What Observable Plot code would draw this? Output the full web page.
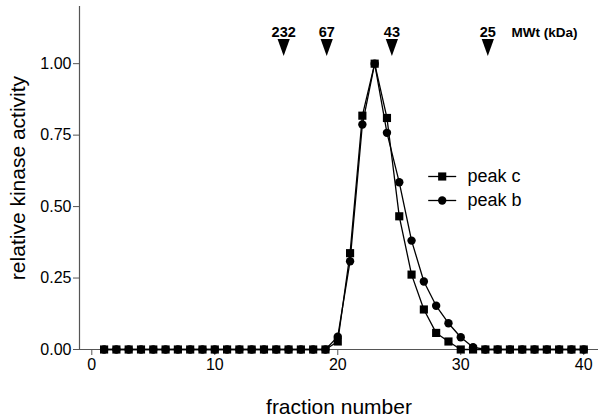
<!DOCTYPE html>
<html>
<head>
<meta charset="utf-8">
<script src="https://cdn.jsdelivr.net/npm/d3@7"></script>
<script src="https://cdn.jsdelivr.net/npm/@observablehq/plot@0.6"></script>
<style>
  html, body { margin: 0; padding: 0; background: #fff; }
  #chart { width: 602px; height: 418px; }
</style>
</head>
<body>
<div id="chart"></div>
<script>
// ---- data ----
const fractions = d3.range(1, 41);
const peakC = [0,0,0,0,0,0,0,0,0,0,0,0,0,0,0,0,0,0,0,0.028,0.337,0.818,1.0,0.81,0.466,0.262,0.14,0.058,0.028,0,0,0,0,0,0,0,0,0,0,0];
const peakB = [0,0,0,0,0,0,0,0,0,0,0,0,0,0,0,0,0,0,0,0.045,0.309,0.787,1.0,0.758,0.585,0.381,0.238,0.153,0.092,0.043,0.008,0,0,0,0,0,0,0,0,0];
const mwLabels = ["232", "67", "43", "25"];
const mwFractions = [15.6, 19.1, 24.4, 32.2];
const xTicks = [0, 10, 20, 30, 40];
const yTicks = [0, 0.25, 0.5, 0.75, 1.0];
const xDomain = [-1, 41.2];
const yDomain = [0, 1.2];

const rowsC = fractions.map((f, i) => ({f, v: peakC[i]}));
const rowsB = fractions.map((f, i) => ({f, v: peakB[i]}));
const mw = mwLabels.map((l, i) => ({l, f: mwFractions[i]}));

const downTriangle = {
  draw(ctx, size) {
    const r = Math.sqrt(size / Math.PI);
    ctx.moveTo(-0.72 * r, -r);
    ctx.lineTo(0.72 * r, -r);
    ctx.lineTo(0, r);
    ctx.closePath();
  }
};
const legendLine = {
  draw(ctx, size) {
    ctx.moveTo(-14, 0);
    ctx.lineTo(14, 0);
  }
};

const axisColor = "#555";
const font = "'Liberation Sans', Arial, sans-serif";

const chart = Plot.plot({
  width: 602,
  height: 418,
  marginLeft: 79,
  marginRight: 4,
  marginTop: 6,
  marginBottom: 69,
  style: {fontFamily: font, fontSize: "16px", color: "black", background: "white", overflow: "visible"},
  x: {domain: xDomain},
  y: {domain: yDomain},
  marks: [
    Plot.axisX(xTicks, {tickSize: 6, tickPadding: 3, stroke: axisColor, fill: "black", fontSize: 16, label: null}),
    Plot.axisY(yTicks, {tickSize: 6, tickPadding: 2, tickFormat: d3.format(".2f"), stroke: axisColor, fill: "black", fontSize: 16, label: null}),
    Plot.ruleY([yDomain[0]], {stroke: axisColor, strokeWidth: 1.2}),
    Plot.ruleX([xDomain[0]], {stroke: axisColor, strokeWidth: 1.2}),
    // axis titles
    Plot.text(["fraction number"], {frameAnchor: "bottom", lineAnchor: "middle", dy: 58, fontSize: 21, fill: "black"}),
    Plot.text(["relative kinase activity"], {frameAnchor: "left", textAnchor: "middle", lineAnchor: "middle", dx: -61, rotate: -90, fontSize: 21, fill: "black"}),
    // series
    Plot.line(rowsB, {x: "f", y: "v", stroke: "black", strokeWidth: 1.3}),
    Plot.dot(rowsB, {x: "f", y: "v", symbol: "circle", r: 4.2, fill: "black", stroke: "none"}),
    Plot.line(rowsC, {x: "f", y: "v", stroke: "black", strokeWidth: 1.3}),
    Plot.dot(rowsC, {x: "f", y: "v", symbol: "square", r: 4.6, fill: "black", stroke: "none"}),
    // molecular weight markers
    Plot.dot(mw, {x: "f", frameAnchor: "top", dy: 41, symbol: downTriangle, r: 8.5, fill: "black", stroke: "none"}),
    Plot.text(mw, {x: "f", text: "l", frameAnchor: "top", lineAnchor: "middle", dy: 26, fontSize: 14.5, fontWeight: "bold", fill: "black"}),
    Plot.text(["MWt (kDa)"], {frameAnchor: "top-right", lineAnchor: "middle", dx: -21, dy: 26, textAnchor: "end", fontSize: 13.5, fontWeight: "bold", fill: "black"}),
    // legend
    Plot.dot([0], {frameAnchor: "top-left", dx: 362.7, dy: 170, symbol: legendLine, stroke: "black", strokeWidth: 1.3, fill: "none"}),
    Plot.dot([0], {frameAnchor: "top-left", dx: 362.7, dy: 170, symbol: "square", r: 4.6, fill: "black", stroke: "none"}),
    Plot.text(["peak c"], {frameAnchor: "top-left", lineAnchor: "middle", dx: 388, dy: 170, textAnchor: "start", fontSize: 18, fill: "black"}),
    Plot.dot([0], {frameAnchor: "top-left", dx: 362.7, dy: 194, symbol: legendLine, stroke: "black", strokeWidth: 1.3, fill: "none"}),
    Plot.dot([0], {frameAnchor: "top-left", dx: 362.7, dy: 194, symbol: "circle", r: 4.2, fill: "black", stroke: "none"}),
    Plot.text(["peak b"], {frameAnchor: "top-left", lineAnchor: "middle", dx: 388, dy: 194, textAnchor: "start", fontSize: 18, fill: "black"})
  ]
});
document.getElementById("chart").appendChild(chart);
</script>
</body>
</html>
